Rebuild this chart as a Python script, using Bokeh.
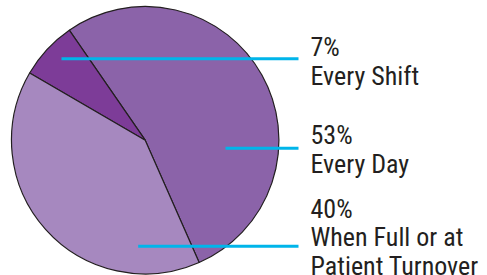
import numpy as np
from bokeh.plotting import figure
from bokeh.models import Range1d, ColumnDataSource
from bokeh.core.properties import value
from bokeh.embed import file_html
from bokeh.resources import INLINE

# ---- data ----
categories = ["Every Day", "Every Shift", "When Full or at Patient Turnover"]
percents = [53, 7, 40]
pct_labels = ["53%", "7%", "40%"]
label_lines = [["Every Day"], ["Every Shift"], ["When Full or at", "Patient Turnover"]]
colors = ["#8B63A9", "#7D3C98", "#A688BF"]

# ---- layout (image-pixel coordinates, y measured up from bottom) ----
W, H = 487, 275
cx, cy, r = 144.7, H - 139.7, 133.7
start_deg = -66.2
leader_start_x = [225, 61, 137.7]
leader_y = [H - 147.7, H - 58.3, H - 245.7]
leader_end_x = 298
text_x = 310
baseline_fix = 8.5
first_baseline = [H - 143.3 + baseline_fix, H - 55.4 + baseline_fix, H - 216.7 + baseline_fix]
line_step = 28.5

p = figure(width=W, height=H, x_range=Range1d(0, W), y_range=Range1d(0, H),
           output_backend="svg", toolbar_location=None, min_border=0)
p.axis.visible = False
p.grid.visible = False
p.outline_line_color = None
p.background_fill_color = "white"
p.border_fill_color = "white"

vals = np.array(percents, dtype=float)
ang = np.cumsum(vals) / vals.sum() * 2 * np.pi
starts = np.radians(start_deg) + np.concatenate([[0], ang[:-1]])
ends = np.radians(start_deg) + ang
src = ColumnDataSource(dict(start=starts, end=ends, color=colors, cat=categories))
p.wedge(x=cx, y=cy, radius=r, start_angle="start", end_angle="end",
        fill_color="color", line_color="#231F20", line_width=1.2, source=src)

for sx, ly in zip(leader_start_x, leader_y):
    p.line([sx, leader_end_x], [ly, ly], line_color="#00B5EA", line_width=3)

tx, ty, tt = [], [], []
for i in range(len(categories)):
    lines = [pct_labels[i]] + label_lines[i]
    for j, s in enumerate(lines):
        tx.append(text_x)
        ty.append(first_baseline[i] - j * line_step)
        tt.append(s)
p.text(x=tx, y=ty, text=tt, text_font=value("Roboto Condensed"),
       text_font_size="26px", text_color="#231F20", text_baseline="alphabetic",
       text_align="left")

open("out.html", "w").write(file_html(p, INLINE))
